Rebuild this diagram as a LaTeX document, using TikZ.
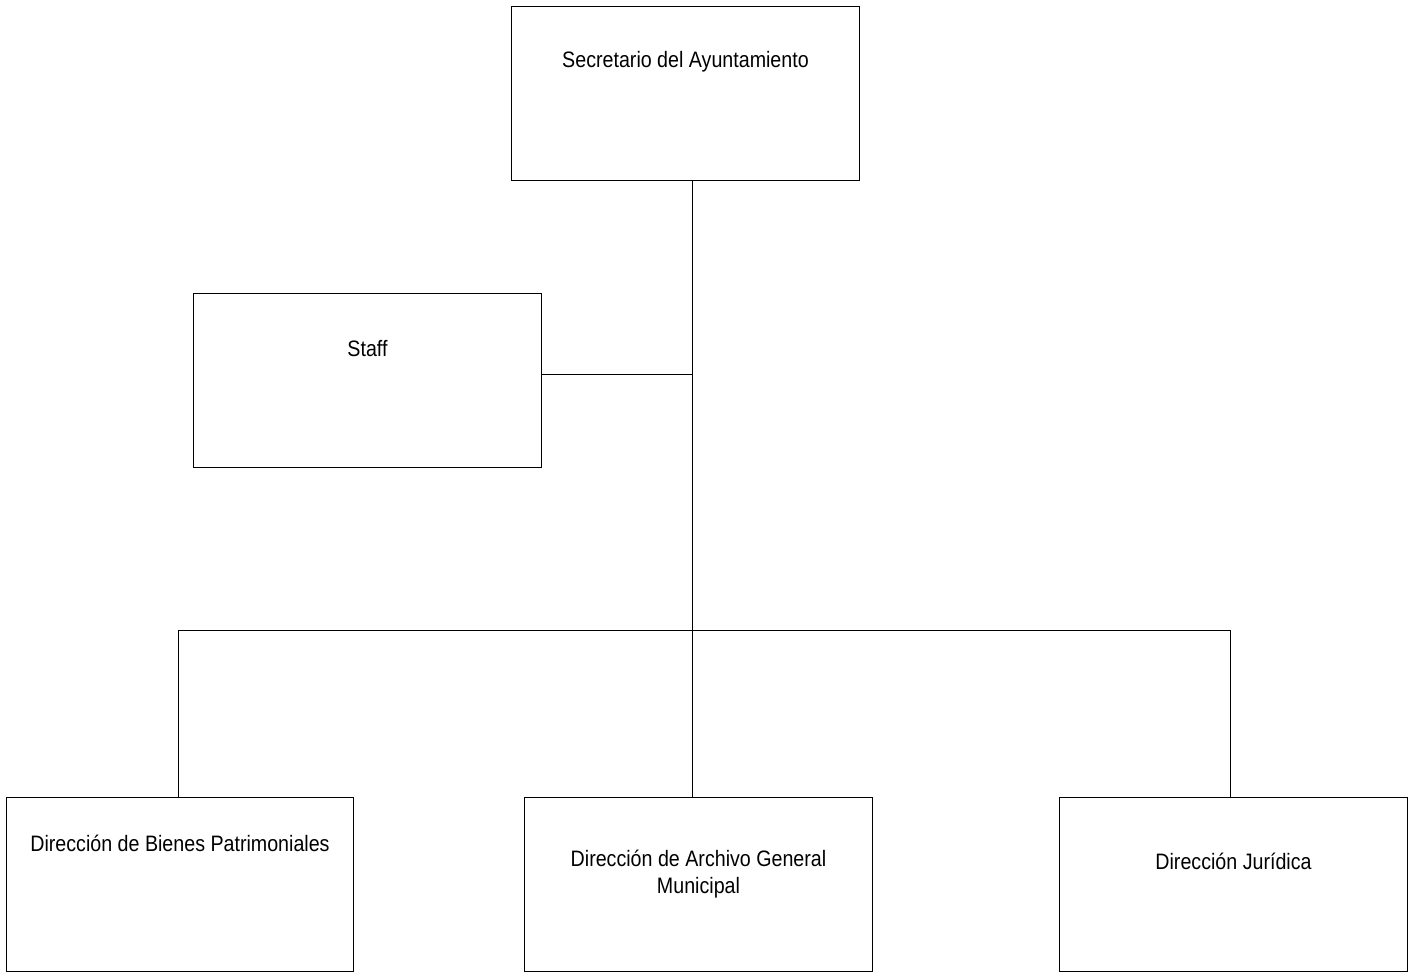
\documentclass[tikz,border=0pt]{standalone}
\usepackage{fontspec}
\setmainfont{Liberation Sans}[FakeStretch=0.88]
\usetikzlibrary{calc,positioning}
\tikzset{
  unitbox/.style={draw,line width=0.28pt,minimum width=3.47cm,minimum height=1.73cm,inner sep=0pt},
  boxtext/.style={font=\fontsize{6.35}{7.7}\selectfont,align=center,inner sep=0pt},
  link/.style={line width=0.25pt}
}
\begin{document}
\begin{tikzpicture}[x=0.01cm,y=-0.01cm]
      \useasboundingbox (0,0) rectangle (1408,972);

      % boxes
      \node[unitbox] (sec)   at (685.5,93.5)  {};
      \node[unitbox] (staff) at (367.5,380.5) {};
      \node[unitbox] (bien)  at (180,884.5)   {};
      \node[unitbox] (arch)  at (698.5,884.5) {};
      \node[unitbox] (jur)   at (1233.5,884.5) {};

      % texts
      \node[boxtext] (secT)   at ($(sec.north)+(0,55)$)   {Secretario del Ayuntamiento};
      \node[boxtext] (staffT) at ($(staff.north)+(0,55)$) {Staff};
      \node[boxtext] (bienT)  at ($(bien.north)+(0,46)$)  {Dirección de Bienes Patrimoniales};
      \node[boxtext] (archT)  at ($(arch.north)+(0,77)$)  {Dirección de Archivo General\\Municipal};
      \node[boxtext] (jurT)   at ($(jur.north)+(0,64)$)   {Dirección Jurídica};

      % connectors
      \coordinate (trunk) at (692,630);
      \coordinate (side)  at (692,374);
      \draw[link] (trunk |- sec.south) -- (trunk |- arch.north);
      \draw[link] (staff.east |- side) -- (side);
      \draw[link] (178,630) -- (1230,630);
      \draw[link] (178,630) -- (178,0 |- bien.north);
      \draw[link] (1230,630) -- (1230,0 |- jur.north);
\end{tikzpicture}
\end{document}
